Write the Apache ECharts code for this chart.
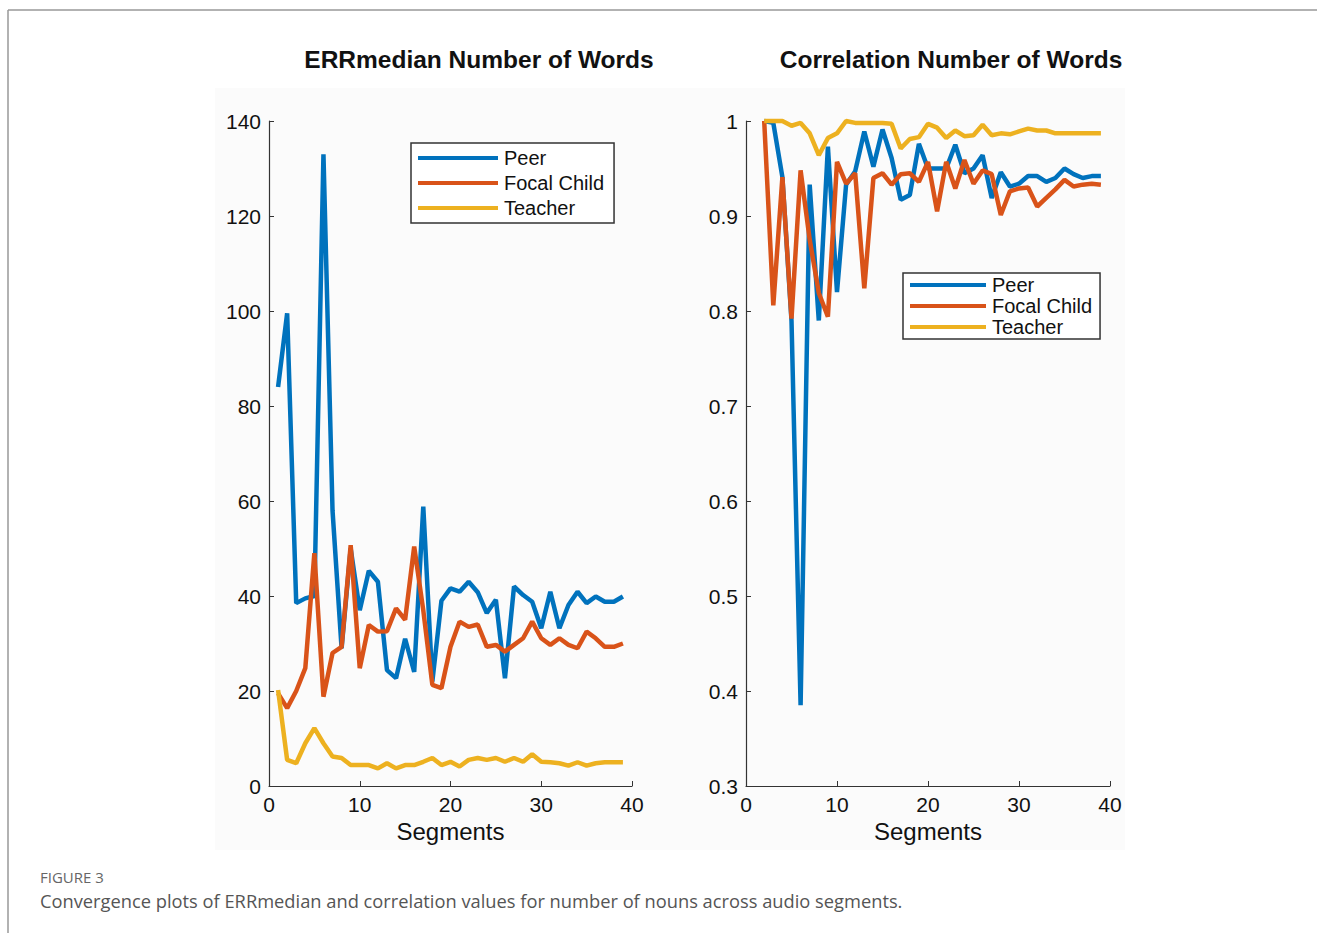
<!DOCTYPE html>
<html>
<head>
<meta charset="utf-8">
<script src="https://cdn.jsdelivr.net/npm/echarts@6/dist/echarts.min.js"></script>
<style>
  html, body { margin: 0; padding: 0; background: #fff; }
  #chart { width: 1317px; height: 933px; }
</style>
</head>
<body>
<div id="chart"></div>
<script>
// segments, left panel (ERRmedian)
var segLeft = [1,2,3,4,5,6,7,8,9,10,11,12,13,14,15,16,17,18,19,20,21,22,23,24,25,26,27,28,29,30,31,32,33,34,35,36,37,38,39];
var peerErr = [84,99.5,38.5,39.5,40,133,58,29,50,37,45.3,43,24.4,22.7,31,24,58.8,22,39,41.6,40.9,43,40.8,36.4,39.2,22.7,42,40.2,38.8,33.2,40.9,33.2,38.1,40.9,38.5,39.9,38.8,38.8,39.9];
var focalErr = [19.5,16.4,20,24.8,49,18.8,28,29.3,50.7,24.8,33.9,32.5,32.6,37.4,35,50.4,37,21.3,20.6,29.3,34.6,33.5,34,29.3,29.7,28.3,29.7,31.1,34.6,31.1,29.7,31.1,29.7,29,32.5,31.1,29.3,29.3,30];
var teacherErr = [20.2,5.5,4.8,9,12.2,9,6.2,5.9,4.4,4.4,4.4,3.7,4.8,3.7,4.4,4.4,5.1,5.9,4.4,5.1,4.1,5.5,5.9,5.5,5.9,5.1,5.9,5.1,6.7,5.1,5,4.8,4.3,5,4.3,4.8,5,5,5];

// segments, right panel (correlation)
var segRight = [2,3,4,5,6,7,8,9,10,11,12,13,14,15,16,17,18,19,20,21,22,23,24,25,26,27,28,29,30,31,32,33,34,35,36,37,38,39];
var peerCorr = [1.0,0.998,0.941,0.79,0.385,0.933,0.79,0.973,0.82,0.933,0.947,0.989,0.952,0.991,0.961,0.917,0.922,0.976,0.95,0.95,0.95,0.975,0.945,0.95,0.964,0.919,0.946,0.931,0.934,0.942,0.942,0.936,0.94,0.95,0.944,0.94,0.942,0.942];
var focalCorr = [1.0,0.806,0.941,0.792,0.948,0.875,0.819,0.794,0.957,0.934,0.945,0.824,0.94,0.945,0.933,0.944,0.945,0.936,0.957,0.905,0.957,0.929,0.959,0.934,0.948,0.944,0.901,0.926,0.929,0.93,0.91,0.919,0.928,0.938,0.931,0.933,0.934,0.933];
var teacherCorr = [1.0,1.0,1.0,0.995,0.998,0.987,0.964,0.982,0.987,1.0,0.998,0.998,0.998,0.998,0.997,0.971,0.981,0.983,0.997,0.993,0.982,0.99,0.984,0.985,0.996,0.985,0.987,0.986,0.989,0.992,0.99,0.99,0.987,0.987,0.987,0.987,0.987,0.987];

var seriesNames = ['Peer', 'Focal Child', 'Teacher'];
var colors = ['#0072BD', '#D95319', '#EDB120'];
var font = '"Liberation Sans", Arial, Helvetica, sans-serif';

function pairs(xs, ys) {
    var out = [];
    for (var i = 0; i < xs.length; i++) {
        out.push([xs[i], ys[i]]);
    }
    return out;
}

function lineSeries(name, idx, xs, ys) {
    return {
        name: name,
        type: 'line',
        xAxisIndex: idx,
        yAxisIndex: idx,
        data: pairs(xs, ys),
        symbol: 'none',
        clip: false,
        lineStyle: { width: 4.5 },
        emphasis: { disabled: true }
    };
}

function xAx(idx) {
    return {
        type: 'value', gridIndex: idx, min: 0, max: 40, interval: 10,
        name: 'Segments', nameLocation: 'middle', nameGap: 30,
        nameTextStyle: { fontSize: 24, color: '#111', fontFamily: font },
        axisLine: { lineStyle: { color: '#333', width: 1.2 } },
        axisTick: { inside: true, length: 5, lineStyle: { color: '#333' } },
        axisLabel: { fontSize: 21, color: '#111', fontFamily: font, margin: 8 },
        splitLine: { show: false }
    };
}

function yAx(idx, min, max, step, fmt) {
    return {
        type: 'value', gridIndex: idx, min: min, max: max, interval: step,
        axisLine: { show: true, lineStyle: { color: '#333', width: 1.2 } },
        axisTick: { show: true, inside: true, length: 5, lineStyle: { color: '#333' } },
        axisLabel: { fontSize: 21, color: '#111', fontFamily: font, margin: 8, formatter: fmt },
        splitLine: { show: false }
    };
}

function legendBox(left, top, gap, pad, width) {
    return {
        data: seriesNames,
        orient: 'vertical',
        left: left, top: top,
        icon: 'rect',
        itemWidth: width, itemHeight: 4, itemGap: gap,
        padding: pad,
        borderColor: '#333', borderWidth: 1.5,
        backgroundColor: '#fff',
        selectedMode: false,
        textStyle: { fontSize: 20, color: '#111', fontFamily: font, padding: [0, 0, 0, 1] }
    };
}

var chart = echarts.init(document.getElementById('chart'), null, { renderer: 'svg' });

var option = {
    animation: false,
    color: colors,
    title: [
        { text: 'ERRmedian Number of Words', left: 474, top: 42, textAlign: 'center',
          textStyle: { fontSize: 24.5, fontWeight: 'bold', color: '#111', fontFamily: font } },
        { text: 'Correlation Number of Words', left: 946, top: 42, textAlign: 'center',
          textStyle: { fontSize: 24.5, fontWeight: 'bold', color: '#111', fontFamily: font } },
        { text: 'FIGURE 3', left: 35, top: 864,
          textStyle: { fontSize: 15, fontWeight: 'normal', color: '#666', fontFamily: '"Open Sans", sans-serif' } },
        { text: 'Convergence plots of ERRmedian and correlation values for number of nouns across audio segments.',
          left: 35, top: 886,
          textStyle: { fontSize: 18.3, fontWeight: 'normal', color: '#555', fontFamily: '"Open Sans", sans-serif' } }
    ],
    graphic: [
        { type: 'rect', z: -10, shape: { x: 215, y: 88, width: 910, height: 762 }, style: { fill: '#fbfbfb' } },
        { type: 'line', shape: { x1: 8, y1: 10, x2: 1317, y2: 10 }, style: { stroke: '#999', lineWidth: 1.5 } },
        { type: 'line', shape: { x1: 8, y1: 10, x2: 8, y2: 933 }, style: { stroke: '#999', lineWidth: 1.5 } }
    ],
    legend: [
        legendBox(411, 143, 5, [5, 10, 5, 7], 80),
        legendBox(903, 273, 1, [2, 8, 2, 7], 76)
    ],
    grid: [
        { left: 269, top: 121, width: 363, height: 665 },
        { left: 746, top: 121, width: 364, height: 665 }
    ],
    xAxis: [xAx(0), xAx(1)],
    yAxis: [
        yAx(0, 0, 140, 20),
        yAx(1, 0.3, 1, 0.1, function (v) { return String(+v.toFixed(1)); })
    ],
    series: [
        lineSeries('Peer', 0, segLeft, peerErr),
        lineSeries('Focal Child', 0, segLeft, focalErr),
        lineSeries('Teacher', 0, segLeft, teacherErr),
        lineSeries('Peer', 1, segRight, peerCorr),
        lineSeries('Focal Child', 1, segRight, focalCorr),
        lineSeries('Teacher', 1, segRight, teacherCorr)
    ]
};

chart.setOption(option);
</script>
</body>
</html>
